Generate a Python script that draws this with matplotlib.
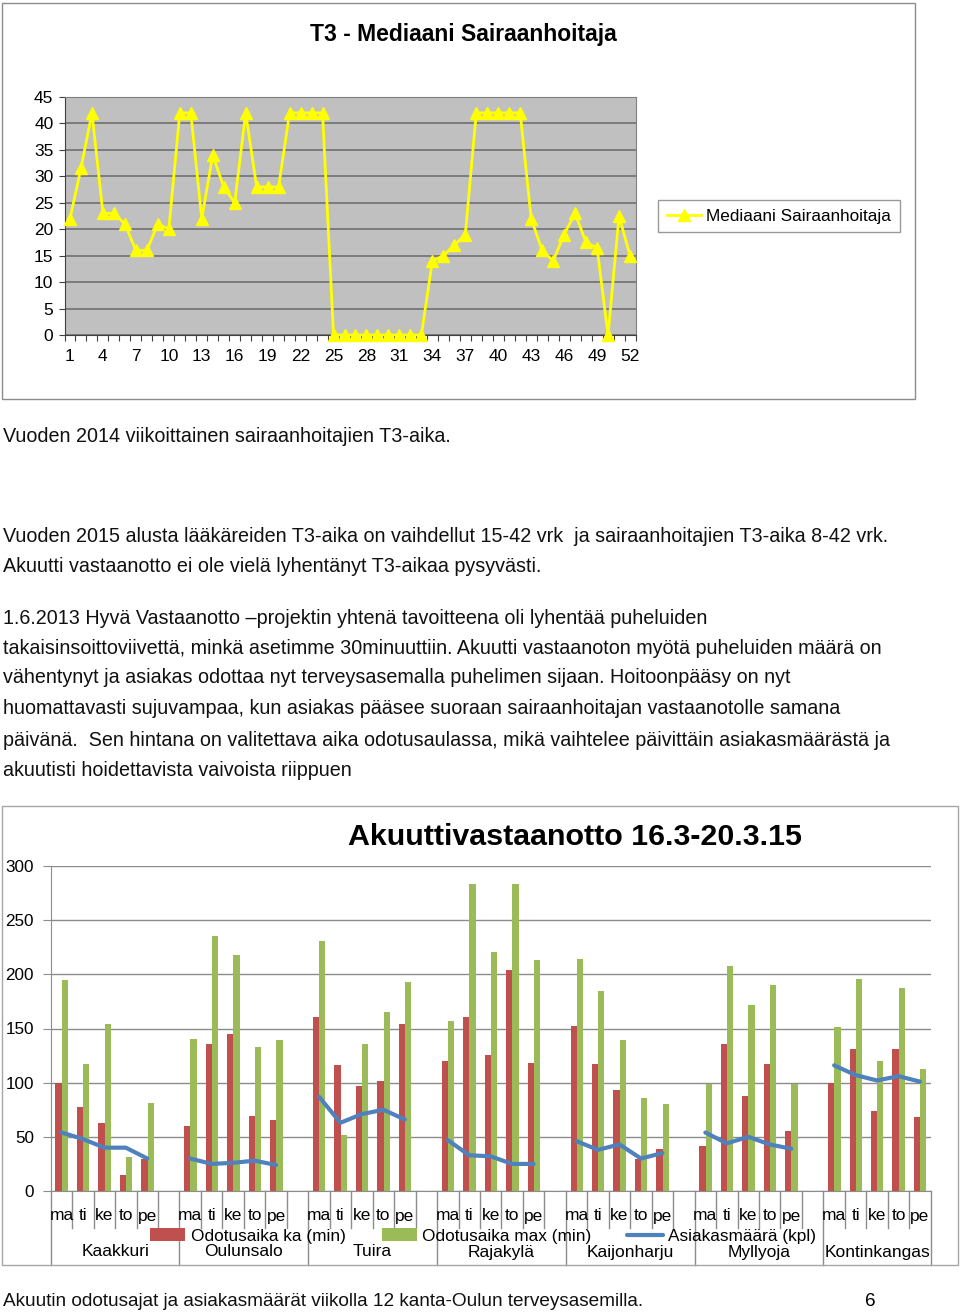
import numpy as np
import matplotlib
matplotlib.use('Agg')
import matplotlib.pyplot as plt
from matplotlib.patches import Rectangle
from matplotlib.lines import Line2D
import matplotlib.transforms as mtransforms

W, H = 960, 1313

# chart 1 data: weekly median T3 (nurses), 2014
weeks = np.arange(1, 53)
t3_median = [22, 31.5, 42, 23, 23, 21, 16, 16, 21, 20, 42, 42, 22, 34, 28, 25,
             42, 28, 28, 28, 42, 42, 42, 42, 0, 0, 0, 0, 0, 0, 0, 0, 0,
             14, 15, 17, 19, 42, 42, 42, 42, 42, 22, 16, 14, 19, 23, 17.5,
             16.5, 0, 22.5, 15]

# chart 2 data: acute reception 16.3-20.3.15
stations = ['Kaakkuri', 'Oulunsalo', 'Tuira', 'Rajakylä', 'Kaijonharju',
            'Myllyoja', 'Kontinkangas']
days = ['ma', 'ti', 'ke', 'to', 'pe']
wait_avg = [[100, 78, 63, 15, 30], [60, 136, 145, 69, 66], [161, 116, 97, 102, 154],
            [120, 161, 126, 204, 118], [152, 117, 93, 30, 39], [42, 136, 88, 117, 55],
            [100, 131, 74, 131, 68]]
wait_max = [[195, 117, 154, 31, 81], [140, 235, 218, 133, 139], [231, 52, 136, 165, 193],
            [157, 283, 221, 283, 213], [214, 185, 139, 86, 80], [99, 208, 172, 190, 99],
            [151, 196, 120, 187, 113]]
clients = [[54, 48, 40, 40, 30], [30, 25, 26, 28, 24], [87, 63, 71, 75, 66],
           [47, 33, 32, 25, 25], [46, 38, 43, 30, 35], [54, 44, 50, 43, 39],
           [116, 107, 102, 106, 101]]

plt.rcParams['font.family'] = ['Liberation Sans', 'DejaVu Sans']


def rect(x0, y0, x1, y1):
    return [x0 / W, 1 - y1 / H, (x1 - x0) / W, (y1 - y0) / H]


def fx(x):
    return x / W


def fy(y):
    return 1 - y / H


fig = plt.figure(figsize=(W / 100, H / 100), dpi=100)

# outer frames
fig.add_artist(Rectangle((fx(2), fy(399)), 913 / W, 396 / H, transform=fig.transFigure,
                         fill=False, ec='#8c8c8c', lw=1))
fig.add_artist(Rectangle((fx(2), fy(1265)), 956 / W, 459 / H, transform=fig.transFigure,
                         fill=False, ec='#a6a6a6', lw=1))

# ---------------- chart 1 ----------------
ax1 = fig.add_axes(rect(64.5, 97, 635.5, 335))
ax1.set_facecolor('#c0c0c0')
ax1.plot(weeks, t3_median, color='#ffff00', lw=2, marker='^', ms=8,
         mfc='#ffff00', mec='#ffff00', clip_on=False, zorder=3,
         label='Mediaani Sairaanhoitaja')
ax1.set_xlim(0.5, 52.5)
ax1.set_ylim(0, 45)
ax1.set_yticks(np.arange(0, 46, 5))
ax1.yaxis.grid(True, color='#707070', lw=1.2)
ax1.set_axisbelow(True)
ax1.set_xticks(np.arange(0.5, 53, 1))
ax1.set_xticklabels([])
ax1.set_xticks(weeks[::3], minor=True)
ax1.set_xticklabels([str(w) for w in weeks[::3]], minor=True)
ax1.tick_params(axis='x', which='major', length=4, direction='out', color='#404040')
ax1.tick_params(axis='x', which='minor', length=0, pad=10, labelsize=12.5)
ax1.tick_params(axis='y', length=4, direction='out', color='#404040', labelsize=12.5, pad=4)
for s in ['top', 'right']:
    ax1.spines[s].set_color('#808080')
for s in ['left', 'bottom']:
    ax1.spines[s].set_color('#404040')
fig.text(fx(463), fy(34), 'T3 - Mediaani Sairaanhoitaja', ha='center', va='center',
         fontsize=16.5, fontweight='bold')
leg1 = ax1.legend(loc='center', bbox_to_anchor=(fx(779), fy(216)),
                  bbox_transform=fig.transFigure, frameon=True, fancybox=False,
                  edgecolor='#808080', fontsize=12.3,
                  handlelength=2.0, borderpad=0.5, handletextpad=0.3)
leg1.get_frame().set_linewidth(1)

# ---------------- text ----------------
txt = dict(fontsize=14.2, va='center', ha='left', color='#111111')
lines = [
    (437, 'Vuoden 2014 viikoittainen sairaanhoitajien T3-aika.'),
    (537, 'Vuoden 2015 alusta lääkäreiden T3-aika on vaihdellut 15-42 vrk  ja sairaanhoitajien T3-aika 8-42 vrk.'),
    (567, 'Akuutti vastaanotto ei ole vielä lyhentänyt T3-aikaa pysyvästi.'),
    (618, '1.6.2013 Hyvä Vastaanotto \u2013projektin yhtenä tavoitteena oli lyhentää puheluiden'),
    (648, 'takaisinsoittoviivettä, minkä asetimme 30minuuttiin. Akuutti vastaanoton myötä puheluiden määrä on'),
    (678, 'vähentynyt ja asiakas odottaa nyt terveysasemalla puhelimen sijaan. Hoitoonpääsy on nyt'),
    (709, 'huomattavasti sujuvampaa, kun asiakas pääsee suoraan sairaanhoitajan vastaanotolle samana'),
    (740, 'päivänä.  Sen hintana on valitettava aika odotusaulassa, mikä vaihtelee päivittäin asiakasmäärästä ja'),
    (770, 'akuutisti hoidettavista vaivoista riippuen'),
]
for y, s in lines:
    fig.text(fx(3), fy(y), s, **txt)
fig.text(fx(3), fy(1302), 'Akuutin odotusajat ja asiakasmäärät viikolla 12 kanta-Oulun terveysasemilla.',
         fontsize=13.7, va='center', ha='left', color='#111111')
fig.text(fx(870), fy(1302), '6', ha='center', va='center', fontsize=13.7)

# ---------------- chart 2 ----------------
ax2 = fig.add_axes(rect(50.7, 866, 930.7, 1191))
n_days = len(days)
step = n_days + 1
ncat = len(stations) * step - 1
bw = 0.29
handles = []
for g, st in enumerate(stations):
    pos = np.arange(n_days) + g * step
    b1 = ax2.bar(pos - bw / 2 + 0.01, wait_avg[g], width=bw, color='#c0504d', zorder=2)
    b2 = ax2.bar(pos + bw / 2 + 0.01, wait_max[g], width=bw, color='#9bbb59', zorder=2)
    ln, = ax2.plot(pos, clients[g], color='#4f81bd', lw=3, zorder=3, solid_capstyle='round')
    if g == 0:
        handles = [b1, b2, ln]
ax2.set_xlim(-0.5, ncat - 0.5)
ax2.set_ylim(0, 300)
ax2.set_yticks(np.arange(0, 301, 50))
ax2.yaxis.grid(True, color='#8c8c8c', lw=1)
ax2.set_axisbelow(True)
ax2.set_xticks([])
ax2.tick_params(axis='y', length=6, color='#8c8c8c', labelsize=12.3, pad=6)
for s in ['top', 'right']:
    ax2.spines[s].set_visible(False)
for s in ['left', 'bottom']:
    ax2.spines[s].set_color('#8c8c8c')

# multi-level category axis
tr = mtransforms.blended_transform_factory(ax2.transData, ax2.transAxes)
ph = 1191 - 866
for k in range(ncat + 1):
    xb = k - 0.5
    is_group = (k % step == 0) or k == ncat
    ylow = -(1265 - 1191) / ph if is_group else -(1228 - 1191) / ph
    ax2.add_line(Line2D([xb, xb], [0, ylow], transform=tr, color='#8c8c8c', lw=1,
                        clip_on=False))
for g, st in enumerate(stations):
    for d, dname in enumerate(days):
        ax2.text(g * step + d, -(1216 - 1191) / ph, dname, transform=tr, ha='center',
                 va='center', fontsize=12.5)
    right = min(g * step + step, ncat) - 0.5
    ax2.text((g * step - 0.5 + right) / 2, -(1252 - 1191) / ph, st, transform=tr,
             ha='center', va='center', fontsize=12.5)

fig.text(fx(575), fy(837), 'Akuuttivastaanotto 16.3-20.3.15', ha='center', va='center',
         fontsize=21.9, fontweight='bold')
leg2 = ax2.legend(handles, ['Odotusaika ka (min)', 'Odotusaika max (min)', 'Asiakasmäärä (kpl)'],
                  loc='center', bbox_to_anchor=(fx(483), fy(1236)),
                  bbox_transform=fig.transFigure, ncol=3, frameon=False,
                  fontsize=12.4, handlelength=2.05, handleheight=0.7,
                  columnspacing=2.1, handletextpad=0.3, borderpad=0)

fig.savefig('out.png', dpi=100)
